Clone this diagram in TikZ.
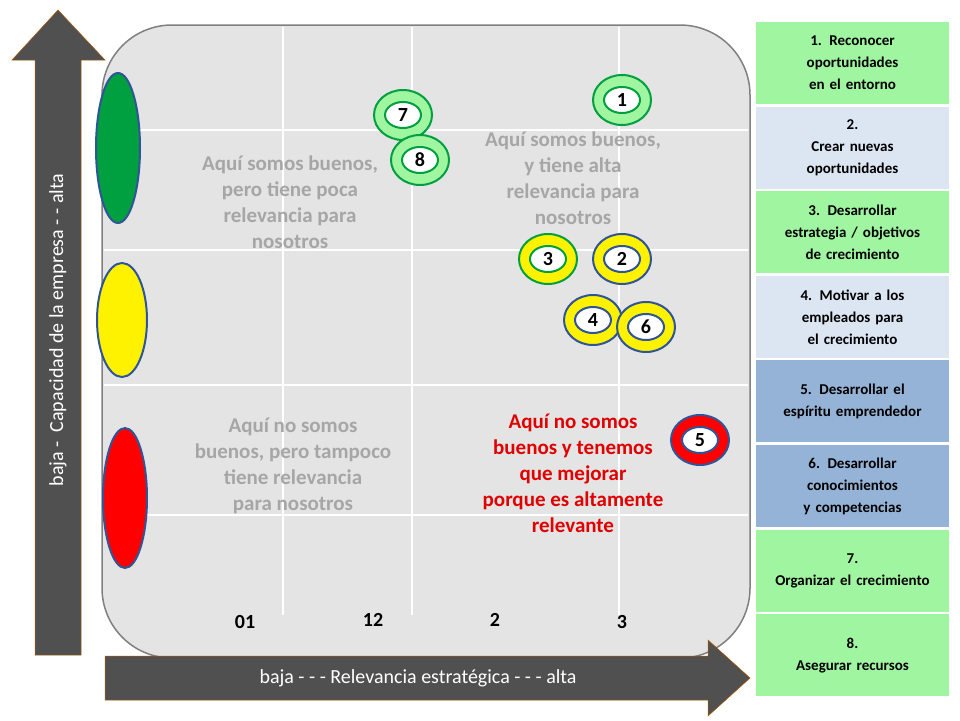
\documentclass[tikz,border=0pt]{standalone}
\usepackage{fontspec}
\setmainfont{Carlito}
\usetikzlibrary{shapes.geometric}
\definecolor{panelgray}{HTML}{E4E4E4}
\definecolor{arrowgray}{HTML}{505050}
\definecolor{ringblue}{HTML}{2F5597}
\definecolor{ringgreen}{HTML}{00A040}
\definecolor{lightgreen}{HTML}{A0F5A0}
\definecolor{paleblue}{HTML}{DCE6F2}
\definecolor{midblue}{HTML}{95B3D7}
\definecolor{quadgray}{HTML}{A6A6A6}
\definecolor{quadred}{HTML}{E00000}
\tikzset{
  ring/.style={ellipse,draw=#1,line width=2pt,minimum width=58pt,minimum height=50pt,inner sep=0pt},
  hole/.style={ellipse,draw=#1,line width=2pt,fill=white,minimum width=36pt,minimum height=26pt,inner sep=0pt,font=\fontsize{20}{20}\selectfont\bfseries},
  side/.style={ellipse,draw=ringblue,line width=2pt},
  quad/.style={align=center,font=\fontsize{21}{26}\selectfont\bfseries,text=quadgray},
  item/.style={draw=white,line width=1pt,minimum width=194pt,minimum height=83pt,text width=160pt,align=center,
    font=\fontsize{15}{22}\selectfont\bfseries,anchor=north west,execute at begin node={\hyphenpenalty=10000}},
  ticklbl/.style={font=\fontsize{20}{20}\selectfont\bfseries}
}
\begin{document}
\begin{tikzpicture}[x=1pt,y=-1pt]
  \useasboundingbox (0,0) rectangle (960,720);
  % panel and grid
  \draw[fill=panelgray,draw=gray,line width=1.5pt,rounded corners=70pt] (102,25) rectangle (750,658);
  \foreach \gx in {283,412,619} \draw[white,line width=2pt] (\gx,27) -- (\gx,615);
  \foreach \gy in {130,250,385,515} \draw[white,line width=2pt] (104,\gy) -- (748,\gy);
  % axis arrows
  \draw[fill=arrowgray,draw=orange!70!black,line width=0.5pt]
    (35,655) -- (35,60) -- (12,60) -- (58,10) -- (105,60) -- (81,60) -- (81,655) -- cycle;
  \node[rotate=90,white,font=\fontsize{20}{20}\selectfont] (ylbl) at (58,330) {baja - \ Capacidad de la empresa - - alta};
  \draw[fill=arrowgray,draw=orange!70!black,line width=0.5pt]
    (105,656) -- (708,656) -- (708,640) -- (750,678) -- (708,716) -- (708,700) -- (105,700) -- cycle;
  \node[white,font=\fontsize{20}{20}\selectfont] (xlbl) at (418,678) {baja - - - Relevancia estratégica - - - alta};
  % side ellipses
  \node[side,fill=ringgreen,minimum width=44pt,minimum height=150pt] (sg) at (118,148) {};
  \node[side,fill=yellow,minimum width=50pt,minimum height=114pt] (sy) at (122,320) {};
  \node[side,fill=red,minimum width=44pt,minimum height=140pt] (sr) at (125,498) {};
  % quadrant texts
  \node[quad] (q1) at (290,202) {Aquí somos buenos,\\pero tiene poca\\relevancia para\\nosotros};
  \node[quad] (q2) at (573,178) {Aquí somos buenos,\\y tiene alta\\relevancia para\\nosotros};
  \node[quad] (q3) at (293,466) {Aquí no somos\\buenos, pero tampoco\\tiene relevancia\\para nosotros};
  \node[quad,text=quadred] (q4) at (573,473) {Aquí no somos\\buenos y tenemos\\que mejorar\\porque es altamente\\relevante};
  % markers
  \foreach \nm/\px/\py/\fc/\bc in {7/403/115/lightgreen/ringgreen,8/420/160/lightgreen/ringgreen,
      1/622/100/lightgreen/ringgreen,3/548/259/yellow/ringgreen,2/622/259/yellow/ringblue,
      4/593/320/yellow/ringblue,6/646/327/yellow/ringblue,5/700/440/red/ringblue}{
    \node[ring=\bc,fill=\fc] (r\nm) at (\px,\py) {};
    \node[hole=\bc] (h\nm) at (r\nm) {\nm};
  }
  % tick labels
  \node[ticklbl] (t0) at (245,622) {01};
  \node[ticklbl] (t1) at (373,620) {12};
  \node[ticklbl] (t2) at (495,620) {2};
  \node[ticklbl] (t3) at (622,622) {3};
  % list
  \foreach \k/\fc/\txt in {0/lightgreen/{1. Reconocer oportunidades en el entorno},
      1/paleblue/{2.\\Crear nuevas oportunidades},
      2/lightgreen/{3. Desarrollar estrategia / objetivos de crecimiento},
      3/paleblue/{4. Motivar a los empleados para el crecimiento},
      4/midblue/{5. Desarrollar el espíritu emprendedor\\[18pt]},
      5/midblue/{6. Desarrollar conocimientos y competencias},
      6/lightgreen/{7.\\Organizar el crecimiento},
      7/lightgreen/{8.\\Asegurar recursos\\[14pt]}}
    \node[item,fill=\fc] (b\k) at (755,{21+\k*84.6}) {\txt};
\end{tikzpicture}
\end{document}
